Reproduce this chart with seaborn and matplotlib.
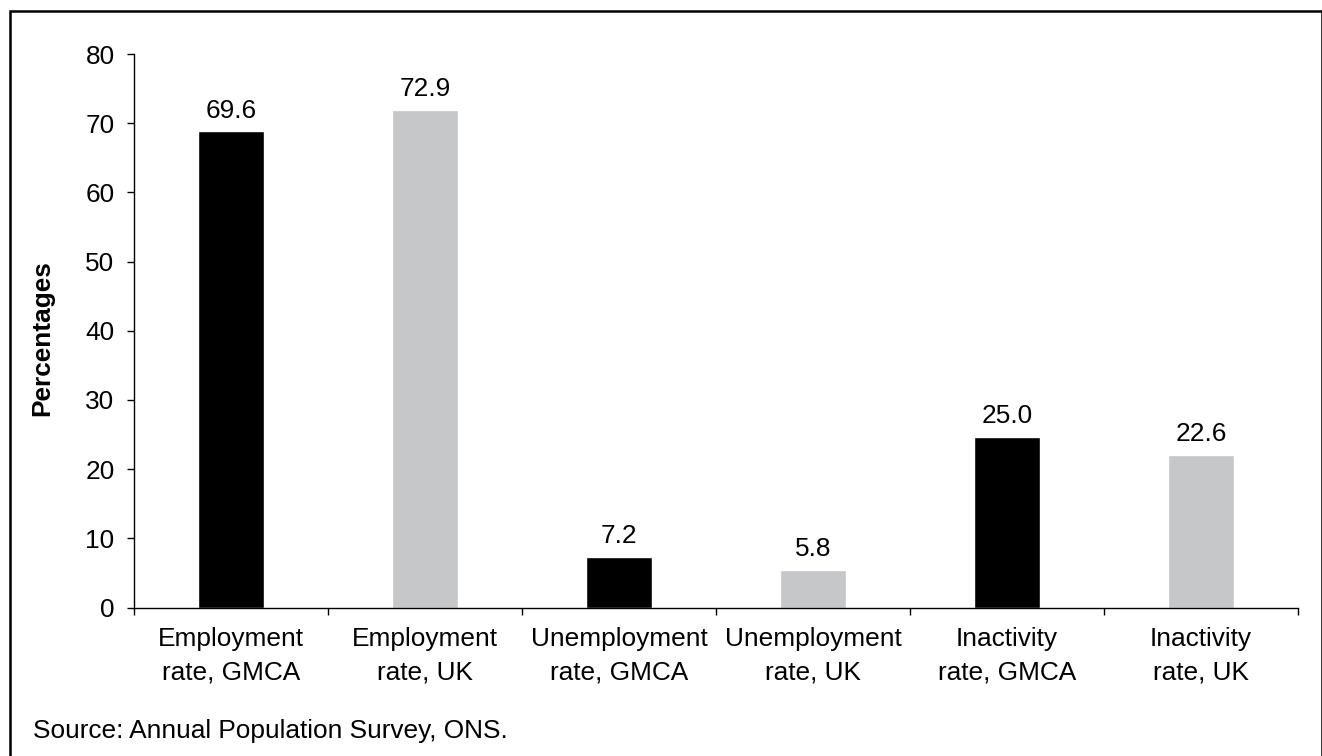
import matplotlib
matplotlib.use("Agg")
import matplotlib.pyplot as plt
from matplotlib.patches import Rectangle
from matplotlib.ticker import FixedLocator
import seaborn as sns
import pandas as pd

# ---- data ----
categories = ["Employment\nrate, GMCA", "Employment\nrate, UK",
              "Unemployment\nrate, GMCA", "Unemployment\nrate, UK",
              "Inactivity\nrate, GMCA", "Inactivity\nrate, UK"]
bar_values = [68.8, 71.9, 7.3, 5.4, 24.6, 22.0]
value_labels = ["69.6", "72.9", "7.2", "5.8", "25.0", "22.6"]
bar_colors = ["#000000", "#C6C7C9", "#000000", "#C6C7C9", "#000000", "#C6C7C9"]
y_ticks = [0, 10, 20, 30, 40, 50, 60, 70, 80]
y_label = "Percentages"
source_text = "Source: Annual Population Survey, ONS."

sns.set_theme(style="white")
plt.rcParams["font.family"] = ["Liberation Sans", "DejaVu Sans"]
FS = 18.9

df = pd.DataFrame({"cat": categories, "val": bar_values})

fig = plt.figure(figsize=(13.22, 7.56), dpi=100)
ax = fig.add_axes([134 / 1322, 1 - 607.5 / 756, (1298 - 134) / 1322, (607.5 - 54) / 756])

sns.barplot(data=df, x="cat", y="val", hue="cat", palette=bar_colors,
            legend=False, width=0.34, saturation=1, ax=ax)

ax.set_ylim(0, 80)
ax.set_xlim(-0.5, len(categories) - 0.5)
ax.set_yticks(y_ticks)
ax.set_yticklabels([str(t) for t in y_ticks], fontsize=FS, color="black")
ax.set_xticks(range(len(categories)))
ax.set_xticklabels(categories, fontsize=FS, color="black", linespacing=1.5)
ax.xaxis.set_minor_locator(FixedLocator([i - 0.5 for i in range(len(categories) + 1)]))

ax.tick_params(axis="x", which="major", length=0, pad=13.7)
ax.tick_params(axis="x", which="minor", length=5, width=1.0, color="black", direction="out", bottom=True)
ax.tick_params(axis="y", which="major", length=5, width=1.0, color="black", direction="out", pad=9, left=True)

for s in ["top", "right"]:
    ax.spines[s].set_visible(False)
for s in ["left", "bottom"]:
    ax.spines[s].set_color("black")
    ax.spines[s].set_linewidth(1.0)

ax.set_xlabel("")
ax.set_ylabel(y_label, fontsize=FS, fontweight="bold", color="black", labelpad=22.6)
ax.yaxis.label.set_y(0.487)

for i, (v, lab) in enumerate(zip(bar_values, value_labels)):
    ax.annotate(lab, (i, v), xytext=(0, 10), textcoords="offset points",
                ha="center", va="baseline", fontsize=FS, color="black")

fig.text(33 / 1322, 1 - 738 / 756, source_text, fontsize=FS, color="black",
         ha="left", va="baseline")

# outer frame
frame = Rectangle((9.5 / 1322, -0.05), (1321.5 - 9.5) / 1322, (1 - 11.2 / 756) + 0.05,
                  transform=fig.transFigure, fill=False, edgecolor="black",
                  linewidth=1.8, clip_on=False)
fig.patches.append(frame)

fig.savefig("out.png", dpi=100)
